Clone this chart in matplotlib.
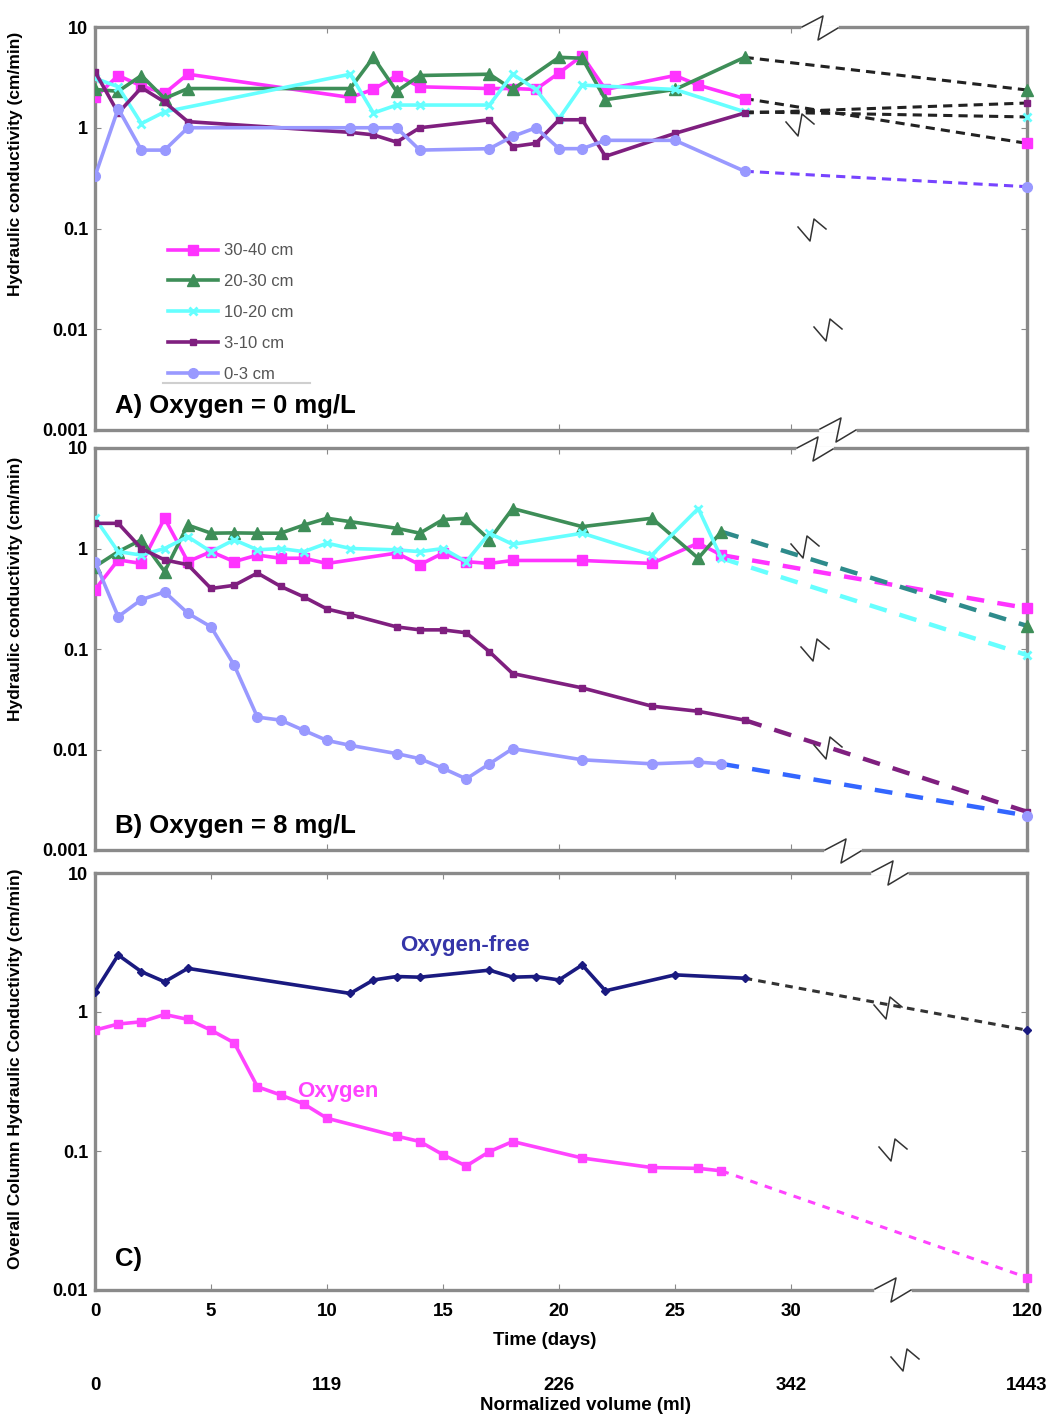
import numpy as np
import matplotlib
matplotlib.use('Agg')
import matplotlib.pyplot as plt
from matplotlib.lines import Line2D

plt.rcParams['font.family'] = ['Liberation Sans', 'DejaVu Sans']

# ---------------- data ----------------
series_labels = ['30-40 cm', '20-30 cm', '10-20 cm', '3-10 cm', '0-3 cm']

# Panel A: oxygen = 0 mg/L
A_days_3040 = [0, 1, 2, 3, 4, 11, 12, 13, 14, 17, 18, 19, 20, 21, 22, 25, 26, 28]
A_k_3040 = [2.0, 3.3, 2.6, 2.2, 3.4, 2.0, 2.4, 3.3, 2.55, 2.45, 2.45, 2.4, 3.5, 5.2, 2.4, 3.3, 2.65, 1.95]
A_days_2030 = [0, 1, 2, 3, 4, 11, 12, 13, 14, 17, 18, 20, 21, 22, 25, 28]
A_k_2030 = [2.4, 2.3, 3.3, 1.95, 2.45, 2.45, 5.0, 2.3, 3.3, 3.4, 2.4, 5.0, 4.9, 1.9, 2.4, 5.0]
A_days_1020 = [0, 1, 2, 3, 11, 12, 13, 14, 17, 18, 19, 20, 21, 25, 28]
A_k_1020 = [3.1, 2.55, 1.1, 1.44, 3.4, 1.4, 1.68, 1.68, 1.68, 3.4, 2.4, 1.23, 2.65, 2.4, 1.44]
A_days_310 = [0, 1, 2, 3, 4, 11, 12, 13, 14, 17, 18, 19, 20, 21, 22, 25, 28]
A_k_310 = [3.6, 1.4, 2.5, 1.8, 1.15, 0.9, 0.85, 0.72, 1.0, 1.2, 0.65, 0.7, 1.2, 1.2, 0.52, 0.88, 1.4]
A_days_03 = [0, 1, 2, 3, 4, 11, 12, 13, 14, 17, 18, 19, 20, 21, 22, 25, 28]
A_k_03 = [0.33, 1.55, 0.6, 0.6, 1.0, 1.0, 1.0, 1.0, 0.6, 0.62, 0.82, 1.0, 0.62, 0.62, 0.75, 0.75, 0.37]
A_k_120 = [0.70, 2.37, 1.28, 1.76, 0.26]

# Panel B: oxygen = 8 mg/L
B_days_3040 = [0, 1, 2, 3, 4, 5, 6, 7, 8, 9, 10, 13, 14, 15, 16, 17, 18, 21, 24, 26, 27]
B_k_3040 = [0.39, 0.77, 0.71, 2.0, 0.74, 0.93, 0.74, 0.86, 0.8, 0.8, 0.71, 0.9, 0.69, 0.9, 0.74, 0.71, 0.76, 0.76, 0.71, 1.13, 0.86]
B_days_2030 = [0, 1, 2, 3, 4, 5, 6, 7, 8, 9, 10, 11, 13, 14, 15, 16, 17, 18, 21, 24, 26, 27]
B_k_2030 = [0.66, 0.93, 1.22, 0.59, 1.71, 1.42, 1.43, 1.42, 1.42, 1.71, 2.0, 1.85, 1.59, 1.42, 1.94, 2.0, 1.22, 2.5, 1.65, 2.0, 0.8, 1.47]
B_days_1020 = [0, 1, 2, 3, 4, 5, 6, 7, 8, 9, 10, 11, 13, 14, 15, 16, 17, 18, 21, 24, 26, 27]
B_k_1020 = [2.0, 0.93, 0.86, 1.0, 1.31, 0.93, 1.22, 0.97, 1.0, 0.93, 1.13, 1.0, 0.97, 0.93, 1.0, 0.74, 1.42, 1.1, 1.42, 0.86, 2.5, 0.8]
B_days_310 = [0, 1, 2, 3, 4, 5, 6, 7, 8, 9, 10, 11, 13, 14, 15, 16, 17, 18, 21, 24, 26, 28]
B_k_310 = [1.78, 1.78, 1.0, 0.77, 0.69, 0.40, 0.43, 0.57, 0.42, 0.33, 0.25, 0.22, 0.166, 0.155, 0.155, 0.145, 0.094, 0.057, 0.041, 0.027, 0.024, 0.0196]
B_days_03 = [0, 1, 2, 3, 4, 5, 6, 7, 8, 9, 10, 11, 13, 14, 15, 16, 17, 18, 21, 24, 26, 27]
B_k_03 = [0.74, 0.21, 0.31, 0.37, 0.227, 0.166, 0.069, 0.021, 0.0196, 0.0155, 0.0123, 0.011, 0.0091, 0.0081, 0.0065, 0.0051, 0.0072, 0.0102, 0.0079, 0.0072, 0.0075, 0.0072]
B_k_120 = [0.255, 0.17, 0.087, 0.0024, 0.0022]

# Panel C: overall column
C_days_free = [0, 1, 2, 3, 4, 11, 12, 13, 14, 17, 18, 19, 20, 21, 22, 25, 28]
C_k_free = [1.40, 2.57, 1.95, 1.65, 2.06, 1.36, 1.70, 1.80, 1.78, 2.0, 1.78, 1.8, 1.7, 2.18, 1.42, 1.85, 1.75]
C_days_oxy = [0, 1, 2, 3, 4, 5, 6, 7, 8, 9, 10, 13, 14, 15, 16, 17, 18, 21, 24, 26, 27]
C_k_oxy = [0.74, 0.82, 0.85, 0.96, 0.885, 0.74, 0.60, 0.29, 0.253, 0.218, 0.172, 0.128, 0.117, 0.094, 0.078, 0.099, 0.117, 0.089, 0.076, 0.075, 0.072]
C_k_120 = [0.74, 0.0123]

LAST_DAY = 120
time_ticks = [0, 5, 10, 15, 20, 25, 30, 120]
time_labels = ['0', '5', '10', '15', '20', '25', '30', '120']
vol_tick_days = [0, 10, 20, 30, 120]
vol_tick_labels = ['0', '119', '226', '342', '1443']

# ---------------- styling ----------------
COL = ['#FF33FF', '#3E8E58', '#66FFFF', '#7F1F7F', '#9999FF']
MK = [dict(marker='s', ms=7), dict(marker='^', ms=8), dict(marker='x', ms=6, mew=2),
      dict(marker='s', ms=4), dict(marker='o', ms=7)]
A_EXT = ['#222222', '#222222', '#222222', '#222222', '#7744FF']
B_EXT = ['#FF33FF', '#2E8B8B', '#66FFFF', '#7F1F7F', '#3366FF']
B_END_COL = ['#FF33FF', '#3E8E58', '#66FFFF', '#7F1F7F', '#9999FF']
SPINE = '#8a8a8a'
TICK_FS = 13
LAB_FS = 12.5

BREAK = 30.0
K = (40.17 - 30.0) / 90.0


def fwd(x):
    x = np.asarray(x, dtype=float)
    return np.where(x <= BREAK, x, BREAK + (x - BREAK) * K)


def inv(y):
    y = np.asarray(y, dtype=float)
    return np.where(y <= BREAK, y, BREAK + (y - BREAK) / K)


W, H = 1052, 1416
fig = plt.figure(figsize=(W / 100, H / 100), dpi=100)


def axes_px(l, t, r, b):
    return fig.add_axes([l / W, 1 - b / H, (r - l) / W, (b - t) / H])


axA = axes_px(95, 27, 1027, 430)
axB = axes_px(95, 448, 1027, 850)
axC = axes_px(95, 873, 1027, 1290)

for ax in (axA, axB, axC):
    ax.set_xscale('function', functions=(fwd, inv))
    ax.set_yscale('log')
    ax.set_xlim(0, 120)
    for s in ax.spines.values():
        s.set_color(SPINE)
        s.set_linewidth(2.4)
    ax.tick_params(axis='both', which='major', direction='in', length=4, color=SPINE,
                   top=True, right=True)
    ax.tick_params(axis='y', pad=5)
    ax.tick_params(axis='both', which='minor', length=0)
    ax.yaxis.set_minor_locator(matplotlib.ticker.NullLocator())
    ax.xaxis.set_minor_locator(matplotlib.ticker.NullLocator())

for ax in (axA, axB):
    ax.set_ylim(0.001, 10)
    ax.set_yticks([0.001, 0.01, 0.1, 1, 10], ['0.001', '0.01', '0.1', '1', '10'],
                  fontweight='bold', fontsize=TICK_FS)
    ax.set_xticks([0, 10, 20, 30, 120], [])

axC.set_ylim(0.01, 10)
axC.set_yticks([0.01, 0.1, 1, 10], ['0.01', '0.1', '1', '10'], fontweight='bold', fontsize=TICK_FS)
axC.set_xticks(time_ticks, time_labels, fontweight='bold', fontsize=TICK_FS + 0.5)
axC.tick_params(axis='x', pad=9)

# ---------------- panel A ----------------
A_sets = [(A_days_3040, A_k_3040), (A_days_2030, A_k_2030), (A_days_1020, A_k_1020),
          (A_days_310, A_k_310), (A_days_03, A_k_03)]
handles = []
for i, (d, k) in enumerate(A_sets):
    h, = axA.plot(d, k, color=COL[i], lw=2.6, label=series_labels[i], zorder=3, **MK[i])
    handles.append(h)
    axA.plot([d[-1], LAST_DAY], [k[-1], A_k_120[i]], color=A_EXT[i], lw=2.2,
             dashes=(3, 2), zorder=2)
    axA.plot([LAST_DAY], [A_k_120[i]], color=COL[i], lw=0, clip_on=False, zorder=4, **MK[i])

leg = axA.legend(handles=handles, loc='upper left', bbox_to_anchor=(0.062, 0.50),
                 frameon=False, fontsize=12, handlelength=3.0, handletextpad=0.35,
                 labelspacing=0.95, labelcolor='#555555')
axA.add_line(Line2D([0.073, 0.231], [0.117, 0.117], transform=axA.transAxes,
                    color='#cfcfcf', lw=1.5))
axA.text(0.021, 0.03, 'A) Oxygen = 0 mg/L', transform=axA.transAxes, fontsize=18.5,
         fontweight='bold', ha='left', va='bottom')
axA.set_ylabel('Hydraulic conductivity (cm/min)', fontsize=LAB_FS, fontweight='bold')
axA.yaxis.set_label_coords(-0.077, 0.66)

# ---------------- panel B ----------------
B_sets = [(B_days_3040, B_k_3040), (B_days_2030, B_k_2030), (B_days_1020, B_k_1020),
          (B_days_310, B_k_310), (B_days_03, B_k_03)]
for i, (d, k) in enumerate(B_sets):
    axB.plot(d, k, color=COL[i], lw=2.6, zorder=3, **MK[i])
    axB.plot([d[-1], LAST_DAY], [k[-1], B_k_120[i]], color=B_EXT[i], lw=3.2,
             dashes=(4, 3), zorder=2)
    axB.plot([LAST_DAY], [B_k_120[i]], color=B_END_COL[i], lw=0, clip_on=False, zorder=4, **MK[i])
axB.text(0.021, 0.03, 'B) Oxygen = 8 mg/L', transform=axB.transAxes, fontsize=18.5,
         fontweight='bold', ha='left', va='bottom')
axB.set_ylabel('Hydraulic conductivity (cm/min)', fontsize=LAB_FS, fontweight='bold')
axB.yaxis.set_label_coords(-0.077, 0.65)

# ---------------- panel C ----------------
NAVY = '#1A1A80'
OXY = '#FF44FF'
axC.plot(C_days_free, C_k_free, color=NAVY, lw=2.6, marker='D', ms=4.5, zorder=3)
axC.plot([C_days_free[-1], LAST_DAY], [C_k_free[-1], C_k_120[0]], color='#333333', lw=2.2,
         dashes=(2.5, 2), zorder=2)
axC.plot([LAST_DAY], [C_k_120[0]], color=NAVY, marker='D', ms=4.5, lw=0, clip_on=False, zorder=4)
axC.plot(C_days_oxy, C_k_oxy, color=OXY, lw=2.6, marker='s', ms=6, zorder=3)
axC.plot([C_days_oxy[-1], LAST_DAY], [C_k_oxy[-1], C_k_120[1]], color=OXY, lw=2.2,
         dashes=(2.5, 2.5), zorder=2)
axC.plot([LAST_DAY], [C_k_120[1]], color=OXY, marker='s', ms=6, lw=0, clip_on=False, zorder=4)

axC.text(0.397, 0.827, 'Oxygen-free', transform=axC.transAxes, fontsize=16,
         fontweight='bold', color='#3535A8', ha='center', va='center')
axC.text(0.261, 0.475, 'Oxygen', transform=axC.transAxes, fontsize=16,
         fontweight='bold', color=OXY, ha='center', va='center')
axC.text(0.021, 0.045, 'C)', transform=axC.transAxes, fontsize=18.5,
         fontweight='bold', ha='left', va='bottom')
axC.set_ylabel('Overall Column Hydraulic Conductivity (cm/min)', fontsize=LAB_FS, fontweight='bold')
axC.yaxis.set_label_coords(-0.077, 0.53)

axC.text(0.483, -0.12, 'Time (days)', transform=axC.transAxes, fontsize=13.5,
         fontweight='bold', ha='center', va='center')
xt = axC.get_xaxis_transform()
for d, lab in zip(vol_tick_days, vol_tick_labels):
    axC.text(d, -0.228, lab, transform=xt, fontsize=TICK_FS + 0.5, fontweight='bold',
             ha='center', va='center', clip_on=False)
axC.text(0.526, -0.276, 'Normalized volume (ml)', transform=axC.transAxes, fontsize=13.5,
         fontweight='bold', ha='center', va='center')

# ---------------- axis-break symbols (figure pixels, y up) ----------------
ZZ_SPINE = np.array([[-18, 1], [3, 12], [-2, -12], [18, 0]], dtype=float)
ZZ_IN = np.array([[-14, 3], [-2, -11], [2, 11], [14, 1]], dtype=float)


def zigzag(cx, cy, gap=False):
    shape = ZZ_SPINE if gap else ZZ_IN
    if gap:
        fig.add_artist(Line2D([(cx - 16) / W, (cx + 16) / W], [1 - cy / H, 1 - cy / H],
                              transform=fig.transFigure, color='white', lw=4, zorder=10))
    xs = (cx + shape[:, 0]) / W
    ys = 1 - (cy - shape[:, 1]) / H
    fig.add_artist(Line2D(xs, ys, transform=fig.transFigure, color='#333333', lw=1.1, zorder=11))


for (cx, cy, g) in [(820, 28, True), (800, 125, False), (812, 230, False), (828, 330, False),
                    (838, 430, True),
                    (815, 449, True), (805, 547, False), (815, 650, False), (828, 748, False),
                    (843, 851, True),
                    (890, 873, True), (888, 1008, False), (893, 1150, False), (893, 1290, True),
                    (905, 1360, False)]:
    zigzag(cx, cy, g)

fig.savefig('out.png', dpi=100, facecolor='white')
